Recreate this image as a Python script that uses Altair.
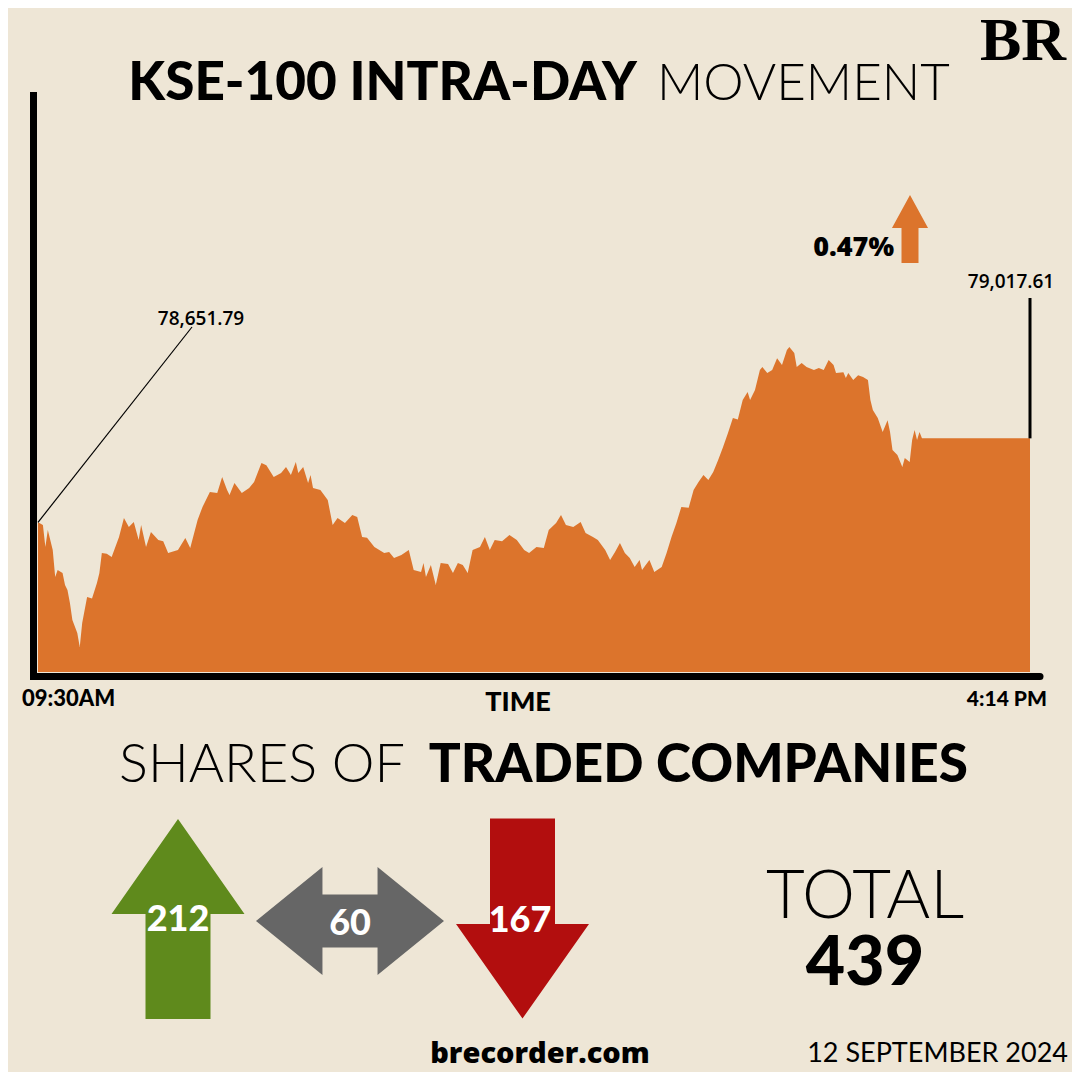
import altair as alt
import pandas as pd

# ---------------- data ----------------
# minutes after the 09:30 open
MINUTES = [0, 2, 3, 4, 6, 7, 8, 10, 11, 12, 13, 14, 16, 17, 18, 20, 22, 24, 25, 26,
           28, 30, 33, 35, 37, 39, 41, 42, 44, 46, 49, 51, 53, 57, 60, 62, 65, 67, 70, 73,
           75, 77, 78, 80, 83, 86, 88, 91, 93, 96, 99, 101, 103, 105, 106, 108, 110, 111, 112, 115,
           118, 120, 122, 125, 128, 130, 132, 134, 137, 141, 143, 145, 148, 151, 153, 156, 157, 158, 160, 162,
           164, 167, 169, 171, 173, 175, 177, 180, 182, 184, 186, 189, 192, 195, 198, 200, 203, 206, 208, 211,
           213, 215, 218, 221, 223, 226, 228, 231, 233, 235, 237, 239, 241, 243, 245, 246, 249, 251, 254, 256,
           258, 260, 262, 265, 267, 269, 271, 273, 275, 277, 279, 281, 283, 285, 287, 289, 290, 292, 294, 295,
           297, 299, 301, 303, 305, 306, 308, 309, 311, 313, 316, 318, 320, 322, 324, 325, 328, 329, 330, 332,
           334, 336, 338, 339, 340, 342, 344, 346, 347, 348, 350, 352, 353, 355, 356, 357, 358, 359, 360, 380,
           404]
# KSE-100 index level
VALUES = [78651.79, 78640, 78544, 78618, 78531, 78414, 78444, 78431, 78379, 78357,
          78300, 78226, 78170, 78109, 78213, 78327, 78320, 78388, 78431, 78518,
          78515, 78501, 78588, 78671, 78631, 78653, 78575, 78640, 78544, 78610,
          78575, 78570, 78518, 78531, 78584, 78540, 78662, 78719, 78784, 78780,
          78849, 78793, 78771, 78823, 78780, 78801, 78827, 78910, 78901, 78849,
          78867, 78893, 78858, 78915, 78867, 78893, 78823, 78858, 78801, 78793,
          78749, 78640, 78671, 78649, 78684, 78675, 78588, 78585, 78544, 78518,
          78523, 78496, 78510, 78531, 78444, 78436, 78475, 78414, 78466, 78379,
          78475, 78470, 78431, 78475, 78466, 78431, 78531, 78544, 78588, 78531,
          78575, 78570, 78597, 78575, 78531, 78518, 78544, 78540, 78618, 78649,
          78684, 78640, 78631, 78653, 78605, 78588, 78575, 78531, 78488, 78523,
          78562, 78518, 78496, 78457, 78488, 78444, 78488, 78436, 78457, 78518,
          78588, 78649, 78719, 78715, 78793, 78827, 78858, 78836, 78871, 78923,
          78980, 79041, 79106, 79100, 79185, 79219, 79185, 79228, 79315, 79328,
          79302, 79315, 79367, 79337, 79402, 79415, 79389, 79328, 79346, 79328,
          79315, 79324, 79315, 79359, 79337, 79302, 79306, 79280, 79302, 79272,
          79293, 79285, 79272, 79185, 79141, 79106, 79045, 79097, 79045, 78967,
          78945, 78893, 78932, 78915, 79010, 79054, 79010, 79045, 79017.61, 79017.61,
          79017.61]
assert len(MINUTES) == len(VALUES)

TIME_LABELS = ["09:30AM", "4:14 PM"]
CHANGE_LABEL = "0.47%"
CATEGORIES = ["Up", "Unchanged", "Down"]
COUNTS = [212, 60, 167]
TOTAL = 439
DATE_LABEL = "12 SEPTEMBER 2024"
SITE_LABEL = "brecorder.com"

# ---------------- style ----------------
BG = "#EEE6D6"
ORANGE = "#DC742C"
GREEN = "#5F8A1C"
GREY = "#666666"
RED = "#B20E0E"
BOLD_FONT = "Lato"

UP_PATH = "M0,-1 L0.665,-0.05 L0.325,-0.05 L0.325,1 L-0.325,1 L-0.325,-0.05 L-0.665,-0.05 Z"
DOWN_PATH = "M-0.325,-1 L0.325,-1 L0.325,0.055 L0.665,0.055 L0,1 L-0.665,0.055 L-0.325,0.055 Z"
BOTH_PATH = ("M-1,0 L-0.293,-0.574 L-0.293,-0.282 L0.293,-0.282 L0.293,-0.574 L1,0 "
             "L0.293,0.574 L0.293,0.282 L-0.293,0.282 L-0.293,0.574 Z")
SMALL_UP_PATH = "M0,-1 L0.53,-0.03 L0.25,-0.03 L0.25,1 L-0.25,1 L-0.25,-0.03 L-0.53,-0.03 Z"

df = pd.DataFrame({"m": MINUTES, "v": VALUES})
first = df.iloc[[0]]
last = df.iloc[[-1]]
counts = pd.DataFrame({"cat": CATEGORIES, "n": COUNTS})

xs = alt.Scale(domain=[0, 404], range=[30, 1022], nice=False, zero=False)
ys = alt.Scale(domain=[78000, 80500], range=[664, 90], nice=False, zero=False)


def txt(s, x, y, size, weight=400, align="center", color="black", font=BOLD_FONT):
    return alt.Chart(pd.DataFrame({"s": [s]})).mark_text(
        align=align, baseline="alphabetic", fontSize=size, fontWeight=weight,
        font=font, color=color
    ).encode(x=alt.value(x), y=alt.value(y), text="s:N")


area = alt.Chart(df).mark_area(color=ORANGE, interpolate="linear").encode(
    x=alt.X("m:Q", scale=xs, axis=None),
    y=alt.Y("v:Q", scale=ys, axis=None),
    y2=alt.datum(78000),
)

# axes drawn as thick rules
axis_pts = pd.DataFrame({"a": [0]})
y_axis = alt.Chart(axis_pts).mark_rule(color="black", strokeWidth=7).encode(
    x=alt.value(25.5), y=alt.value(84), y2=alt.value(672))
x_axis = alt.Chart(axis_pts).mark_rule(color="black", strokeWidth=7, strokeCap="round").encode(
    x=alt.value(26), x2=alt.value(1032), y=alt.value(668.5))

lead_open = alt.Chart(first).mark_rule(color="black", strokeWidth=1.2).encode(
    x="m:Q", y="v:Q", x2=alt.value(184), y2=alt.value(319))
lead_close = alt.Chart(last).mark_rule(color="black", strokeWidth=3).encode(
    x="m:Q", y="v:Q", y2=alt.value(290))

lab_open = alt.Chart(first).mark_text(
    font="Open Sans", fontWeight=600, fontSize=19, baseline="alphabetic", color="black"
).encode(x=alt.value(193), y=alt.value(317), text=alt.Text("v:Q", format=",.2f"))
lab_close = alt.Chart(last).mark_text(
    font="Open Sans", fontWeight=600, fontSize=19, baseline="alphabetic", color="black"
).encode(x=alt.value(1003), y=alt.value(280), text=alt.Text("v:Q", format=",.2f"))

small_arrow = alt.Chart(axis_pts).mark_point(
    shape=SMALL_UP_PATH, filled=True, size=4624, color=ORANGE, opacity=1, strokeWidth=0
).encode(x=alt.value(902), y=alt.value(221))


def arrow(cat, path, size, color, x, y):
    return alt.Chart(counts).transform_filter(alt.datum.cat == cat).mark_point(
        shape=path, filled=True, size=size, color=color, opacity=1, strokeWidth=0
    ).encode(x=alt.value(x), y=alt.value(y))


def count_label(cat, x, y):
    return alt.Chart(counts).transform_filter(alt.datum.cat == cat).mark_text(
        font="Lato", fontWeight=900, fontSize=36, color="white",
        baseline="alphabetic"
    ).encode(x=alt.value(x), y=alt.value(y), text="n:Q")


layers = [
    area, y_axis, x_axis, lead_open, lead_close, lab_open, lab_close, small_arrow,
    txt("KSE-100 INTRA-DAY", 629, 92, 53, 900, "right"),
    txt("MOVEMENT", 649, 92, 51, 300, "left"),
    txt("BR", 1015, 52, 62, "bold", "center", font="Liberation Serif"),
    txt(CHANGE_LABEL, 886, 248, 27, 800, "right", font="Open Sans"),
    txt(TIME_LABELS[0], 14, 698, 22, 900, "left"),
    txt("TIME", 510, 703, 27, 900, "center"),
    txt(TIME_LABELS[1], 1039, 698, 21, 900, "right"),
    txt("SHARES OF", 397, 774, 54, 300, "right"),
    txt("TRADED COMPANIES", 960, 774, 53, 900, "right"),
    arrow("Up", UP_PATH, 40000, GREEN, 170, 911),
    arrow("Unchanged", BOTH_PATH, 35344, GREY, 342, 913),
    arrow("Down", DOWN_PATH, 40000, RED, 514.5, 910.5),
    count_label("Up", 170, 923),
    count_label("Unchanged", 342, 927),
    count_label("Down", 512, 924),
    txt("TOTAL", 857, 910, 67, 300, "center"),
    txt(str(TOTAL), 857, 977, 68, 900, "center"),
    txt(SITE_LABEL, 532, 1055, 29, 800, "center", font="Open Sans"),
    txt(DATE_LABEL, 1060, 1054, 27, 400, "right"),
]

chart = alt.layer(*layers).properties(
    width=1064, height=1064, background=BG, padding=0,
    autosize=alt.AutoSizeParams(type="none"),
).configure_view(stroke=None)

chart.save("out.html", embed_options={"renderer": "svg", "actions": False})
